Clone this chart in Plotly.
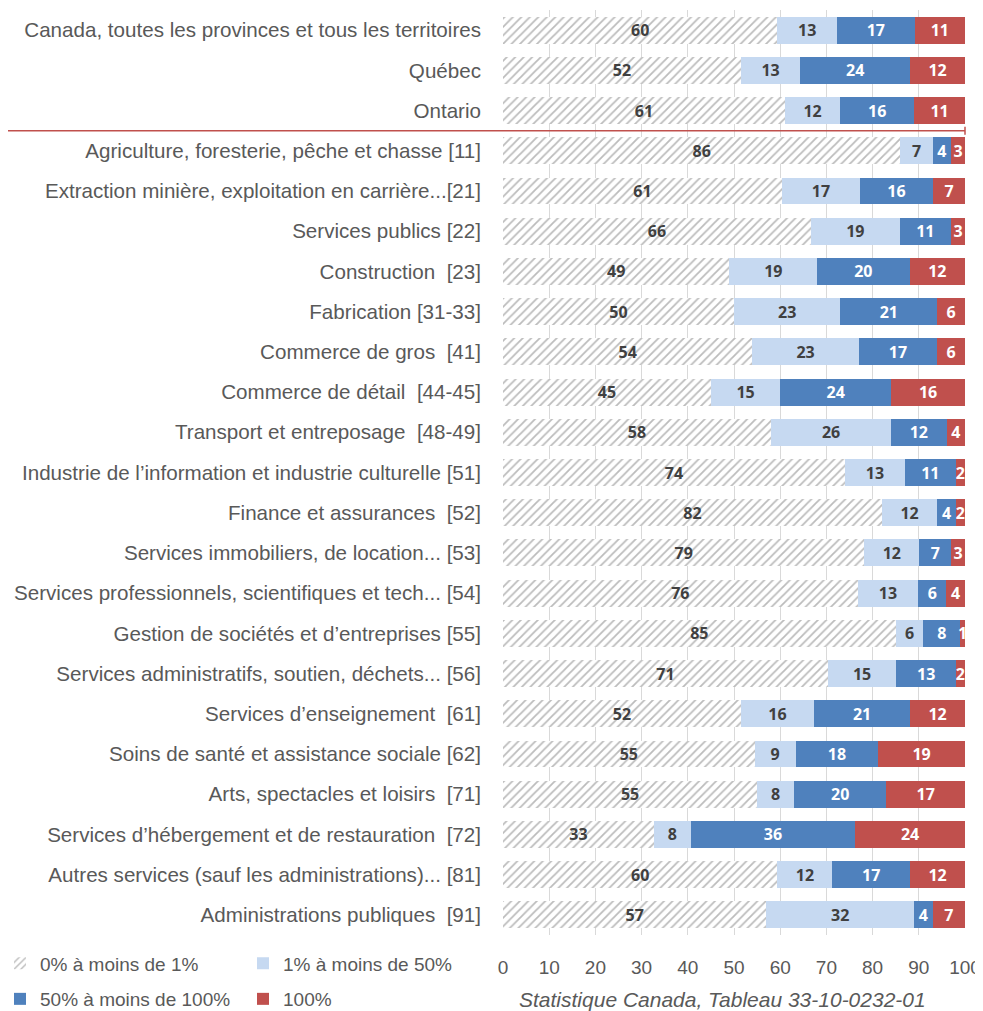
import plotly.graph_objects as go

categories = [
    "Canada, toutes les provinces et tous les territoires",
    "Québec",
    "Ontario",
    "Agriculture, foresterie, pêche et chasse [11]",
    "Extraction minière, exploitation en carrière...[21]",
    "Services publics [22]",
    "Construction \u00a0[23]",
    "Fabrication [31-33]",
    "Commerce de gros \u00a0[41]",
    "Commerce de détail \u00a0[44-45]",
    "Transport et entreposage \u00a0[48-49]",
    "Industrie de l’information et industrie culturelle [51]",
    "Finance et assurances \u00a0[52]",
    "Services immobiliers, de location... [53]",
    "Services professionnels, scientifiques et tech... [54]",
    "Gestion de sociétés et d’entreprises [55]",
    "Services administratifs, soutien, déchets... [56]",
    "Services d’enseignement \u00a0[61]",
    "Soins de santé et assistance sociale [62]",
    "Arts, spectacles et loisirs \u00a0[71]",
    "Services d’hébergement et de restauration \u00a0[72]",
    "Autres services (sauf les administrations)... [81]",
    "Administrations publiques \u00a0[91]",
]

s_0_1 = [60, 52, 61, 86, 61, 66, 49, 50, 54, 45, 58, 74, 82, 79, 76, 85, 71, 52, 55, 55, 33, 60, 57]
s_1_50 = [13, 13, 12, 7, 17, 19, 19, 23, 23, 15, 26, 13, 12, 12, 13, 6, 15, 16, 9, 8, 8, 12, 32]
s_50_100 = [17, 24, 16, 4, 16, 11, 20, 21, 17, 24, 12, 11, 4, 7, 6, 8, 13, 21, 18, 20, 36, 17, 4]
s_100 = [11, 12, 11, 3, 7, 3, 12, 6, 6, 16, 4, 2, 2, 3, 4, 1, 2, 12, 19, 17, 24, 12, 7]

series_names = ["0% à moins de 1%", "1% à moins de 50%", "50% à moins de 100%", "100%"]
x_ticks = [0, 10, 20, 30, 40, 50, 60, 70, 80, 90, 100]

GRAY_TXT = "#595959"
LABEL_FONT = "Open Sans"

fig = go.Figure()

fig.add_trace(go.Bar(
    y=categories, x=s_0_1, orientation="h", name=series_names[0],
    text=[str(v) for v in s_0_1], texttemplate="%{text}",
    textposition="inside", insidetextanchor="middle", textangle=0,
    textfont=dict(family=LABEL_FONT, size=16, color="#404040", weight="bold"),
    marker=dict(color="white",
                pattern=dict(shape="/", fgcolor="#7A7A7A", bgcolor="white", size=6, solidity=0.3),
                line=dict(width=0)),
    legend="legend",
))
fig.add_trace(go.Bar(
    y=categories, x=s_1_50, orientation="h", name=series_names[1],
    text=[str(v) for v in s_1_50], texttemplate="%{text}",
    textposition="inside", insidetextanchor="middle", textangle=0,
    textfont=dict(family=LABEL_FONT, size=16, color="#404040", weight="bold"),
    marker=dict(color="#C6D9F1", line=dict(width=0)),
    legend="legend",
))
fig.add_trace(go.Bar(
    y=categories, x=s_50_100, orientation="h", name=series_names[2],
    text=[str(v) for v in s_50_100], texttemplate="%{text}",
    textposition="inside", insidetextanchor="middle", textangle=0,
    textfont=dict(family=LABEL_FONT, size=16, color="white", weight="bold"),
    marker=dict(color="#4F81BD", line=dict(width=0)),
    legend="legend2",
))
fig.add_trace(go.Bar(
    y=categories, x=s_100, orientation="h", name=series_names[3],
    text=[str(v) for v in s_100], texttemplate="%{text}",
    textposition="inside", insidetextanchor="middle", textangle=0,
    textfont=dict(family=LABEL_FONT, size=16, color="white", weight="bold"),
    marker=dict(color="#C0504D", line=dict(width=0)),
    legend="legend2",
))

# page body has an 8px margin: figure is sized/offset to compensate
W, H = 975, 1003
ML, MR, MT, MB = 495, 18, 2, 76
PW = W - ML - MR
PH = H - MT - MB

sep_color = "#C0504D"
x_left = (-3 - ML) / PW  # separator starts near the page's left edge
shapes = [
    dict(type="line", xref="paper", yref="y", x0=x_left, x1=1.0, y0=2.5, y1=2.5,
         line=dict(color=sep_color, width=1.5), layer="above"),
    dict(type="line", xref="paper", yref="y", x0=x_left, x1=x_left, y0=2.4, y1=2.6,
         line=dict(color=sep_color, width=1.5), layer="above"),
    dict(type="line", xref="paper", yref="y", x0=1.0, x1=1.0, y0=2.4, y1=2.6,
         line=dict(color=sep_color, width=1.5), layer="above"),
]

leg_x = (-8 - ML) / PW

fig.update_layout(
    width=W, height=H, autosize=False,
    margin=dict(l=ML, r=MR, t=MT, b=MB, autoexpand=False),
    barmode="stack", barnorm="percent", bargap=0.33,
    plot_bgcolor="white", paper_bgcolor="white",
    uniformtext=dict(minsize=16, mode="show"),
    font=dict(family="Liberation Sans", color=GRAY_TXT),
    shapes=shapes,
    legend=dict(orientation="h", x=leg_x, xanchor="left", y=-9.5 / PH, yanchor="top",
                font=dict(size=19, color=GRAY_TXT, family="Liberation Sans"),
                entrywidth=198, entrywidthmode="pixels", traceorder="normal",
                bgcolor="rgba(0,0,0,0)"),
    legend2=dict(orientation="h", x=leg_x, xanchor="left", y=-45 / PH, yanchor="top",
                 font=dict(size=19, color=GRAY_TXT, family="Liberation Sans"),
                 entrywidth=198, entrywidthmode="pixels", traceorder="normal",
                 bgcolor="rgba(0,0,0,0)"),
    annotations=[dict(
        text="Statistique Canada, Tableau 33-10-0232-01",
        xref="paper", yref="paper", x=14 / PW, y=-64 / PH, xanchor="left", yanchor="middle",
        showarrow=False,
        font=dict(size=21, color=GRAY_TXT, family="Liberation Sans", style="italic"),
    )],
)

fig.update_xaxes(
    range=[0, 100], tickvals=x_ticks, ticktext=[str(t) for t in x_ticks],
    showgrid=True, gridcolor="#D9D9D9", gridwidth=1, zeroline=False,
    showline=False, ticks="", ticklabelstandoff=19, automargin=False,
    tickfont=dict(size=19, color=GRAY_TXT, family="Liberation Sans"),
    fixedrange=True,
)
fig.update_yaxes(
    categoryorder="array", categoryarray=categories, autorange="reversed",
    showgrid=False, showline=False, ticks="", ticklabelstandoff=21, automargin=False,
    tickfont=dict(size=20.6, color=GRAY_TXT, family="Liberation Sans"),
    fixedrange=True,
)

fig.write_html("out.html")
